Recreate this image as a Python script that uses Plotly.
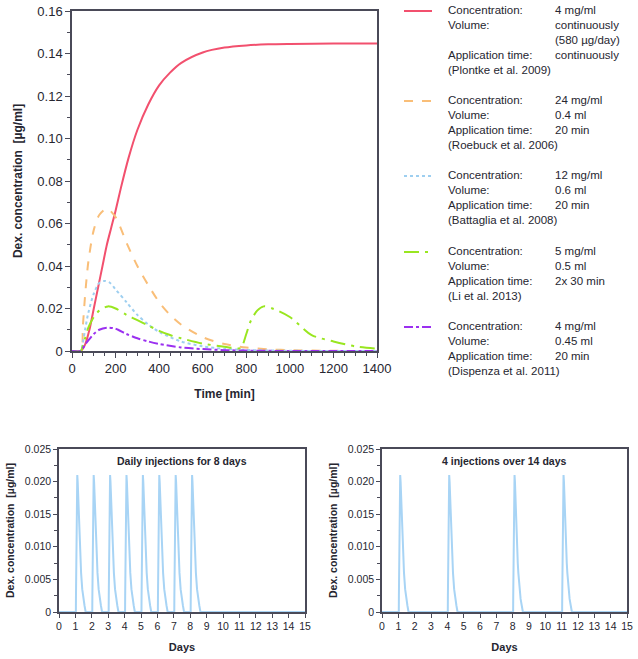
import plotly.graph_objects as go

# --- top chart: dexamethasone concentration over time (min) ---
TIME_RED = [0, 40, 60, 80, 100, 120, 140, 160, 180, 200, 225, 260, 300, 350, 400, 450, 500, 600, 700, 800, 900, 1000, 1200, 1400]
CONC_RED = [0, 0, 0.003, 0.01, 0.02, 0.03, 0.04, 0.05, 0.058, 0.066, 0.077, 0.091, 0.104, 0.116, 0.125, 0.131, 0.1355, 0.1405, 0.1428, 0.1438, 0.1443, 0.1445, 0.1447, 0.1447]

TIME_ORANGE = [0, 40, 50, 60, 75, 100, 125, 160, 200, 250, 300, 350, 400, 450, 500, 600, 700, 800, 900, 1000, 1200, 1400]
CONC_ORANGE = [0, 0, 0.012, 0.026, 0.042, 0.057, 0.064, 0.067, 0.063, 0.051, 0.040, 0.031, 0.023, 0.017, 0.0125, 0.0065, 0.0033, 0.0016, 0.0008, 0.0004, 0.0001, 0]

TIME_BLUE = [0, 40, 50, 60, 75, 100, 125, 150, 175, 200, 250, 300, 350, 400, 500, 600, 700, 800, 1000, 1400]
CONC_BLUE = [0, 0, 0.004, 0.010, 0.018, 0.027, 0.032, 0.033, 0.032, 0.029, 0.023, 0.017, 0.0125, 0.009, 0.0045, 0.0022, 0.001, 0.0005, 0.0001, 0]

TIME_GREEN = [0, 40, 50, 60, 75, 100, 125, 165, 200, 250, 300, 350, 400, 450, 500, 600, 700, 770, 780, 800, 820, 850, 880, 920, 1000, 1100, 1200, 1300, 1400]
CONC_GREEN = [0, 0, 0.0025, 0.006, 0.011, 0.016, 0.019, 0.021, 0.020, 0.017, 0.0145, 0.012, 0.0095, 0.0075, 0.006, 0.0035, 0.002, 0.0012, 0.002, 0.008, 0.014, 0.019, 0.021, 0.020, 0.016, 0.0075, 0.0045, 0.0022, 0.0011]

TIME_PURPLE = [0, 40, 60, 75, 100, 125, 160, 200, 250, 300, 350, 400, 500, 600, 700, 800, 1000, 1400]
CONC_PURPLE = [0, 0, 0.003, 0.005, 0.008, 0.010, 0.011, 0.0105, 0.008, 0.006, 0.0045, 0.0033, 0.0017, 0.0009, 0.0004, 0.0002, 0, 0]

COLORS = ["#F2506E", "#F9BE78", "#9ECFF0", "#99E620", "#9B30F0"]
DASHES = ["solid", "dash", "dot", "longdashdot", "dashdot"]

# legend texts
CONCENTRATIONS = ["4 mg/ml", "24 mg/ml", "12 mg/ml", "5 mg/ml", "4 mg/ml"]
VOLUMES = ["continuously<br>(580 µg/day)", "0.4 ml", "0.6 ml", "0.5 ml", "0.45 ml"]
APP_TIMES = ["continuously", "20 min", "20 min", "2x 30 min", "20 min"]
REFS = ["(Plontke et al. 2009)", "(Roebuck et al. 2006)", "(Battaglia et al. 2008)",
        "(Li et al. 2013)", "(Dispenza et al. 2011)"]

# --- bottom charts: single injection profile (minutes after injection) ---
SPIKE_MIN = [0, 40, 50, 60, 75, 100, 125, 165, 200, 250, 300, 350, 400, 450, 500, 600, 700, 800, 900]
SPIKE_CONC = [0, 0, 0.0025, 0.006, 0.011, 0.016, 0.019, 0.021, 0.020, 0.017, 0.0145, 0.012, 0.0095, 0.0075, 0.006, 0.0035, 0.002, 0.001, 0]
DAYS_DAILY = [1, 2, 3, 4, 5, 6, 7, 8]
DAYS_FOUR = [1, 4, 8, 11]
DAY_TICKS = list(range(16))
Y_TICKS_BOTTOM = [0, 0.005, 0.010, 0.015, 0.020, 0.025]
Y_LABELS_BOTTOM = ["0", "0.005", "0.010", "0.015", "0.020", "0.025"]

W, H = 638, 659
FONT = "Liberation Sans, Arial, sans-serif"
TXT = "#262630"
AX = "#4a4a58"


def px(x):
    return x / W


def py(y):
    return 1 - y / H


def schedule(days):
    xs, ys = [0], [0]
    for d in days:
        for t, c in zip(SPIKE_MIN, SPIKE_CONC):
            xs.append(d + t / 1440)
            ys.append(c)
    xs.append(15)
    ys.append(0)
    return xs, ys


fig = go.Figure()

series = [(TIME_RED, CONC_RED), (TIME_ORANGE, CONC_ORANGE), (TIME_BLUE, CONC_BLUE),
          (TIME_GREEN, CONC_GREEN), (TIME_PURPLE, CONC_PURPLE)]
for (t, c), col, dash in zip(series, COLORS, DASHES):
    fig.add_trace(go.Scatter(x=t, y=c, mode="lines", line=dict(color=col, width=2, dash=dash, shape="spline", smoothing=0.8),
                             xaxis="x", yaxis="y", showlegend=False))

xs, ys = schedule(DAYS_DAILY)
fig.add_trace(go.Scatter(x=xs, y=ys, mode="lines", line=dict(color="#A8D4F5", width=2),
                         xaxis="x2", yaxis="y2", showlegend=False))
xs, ys = schedule(DAYS_FOUR)
fig.add_trace(go.Scatter(x=xs, y=ys, mode="lines", line=dict(color="#A8D4F5", width=2),
                         xaxis="x3", yaxis="y3", showlegend=False))

common = dict(showline=True, linecolor=AX, linewidth=1.5, mirror=True, ticks="outside",
              tickcolor=AX, showgrid=False, zeroline=False, automargin=False)

fig.update_layout(
    width=W, height=H, margin=dict(l=0, r=0, t=0, b=0),
    plot_bgcolor="white", paper_bgcolor="white",
    font=dict(family=FONT, color=TXT),
    xaxis=dict(domain=[px(72), px(377)], anchor="y", range=[0, 1400], tickvals=list(range(0, 1401, 200)),
               ticklen=5, minor=dict(dtick=50, ticklen=3, tickcolor=AX, ticks="outside"),
               tickfont=dict(size=13),
               title=dict(text="<b>Time [min]</b>", font=dict(size=12), standoff=14), **common),
    yaxis=dict(domain=[py(351), py(11)], anchor="x", range=[0, 0.16], tickvals=[0, 0.02, 0.04, 0.06, 0.08, 0.10, 0.12, 0.14, 0.16],
               ticktext=["0", "0.02", "0.04", "0.06", "0.08", "0.10", "0.12", "0.14", "0.16"],
               ticklen=5, minor=dict(dtick=0.01, ticklen=3, tickcolor=AX, ticks="outside"),
               tickfont=dict(size=13),
               title=dict(text="<b>Dex. concentration  [µg/ml]</b>", font=dict(size=12), standoff=12), **common),
    xaxis2=dict(domain=[px(59), px(305)], anchor="y2", range=[0, 15], tickvals=DAY_TICKS, ticklen=4,
                tickfont=dict(size=10.5), title=dict(text="<b>Days</b>", font=dict(size=11), standoff=12), **common),
    yaxis2=dict(domain=[py(612), py(449)], anchor="x2", range=[0, 0.025], tickvals=Y_TICKS_BOTTOM, ticktext=Y_LABELS_BOTTOM,
                ticklen=4, minor=dict(dtick=0.0025, ticklen=3, tickcolor=AX, ticks="outside"),
                tickfont=dict(size=10.5),
                title=dict(text="<b>Dex. concentration  [µg/ml]</b>", font=dict(size=10.5), standoff=8), **common),
    xaxis3=dict(domain=[px(382), px(627)], anchor="y3", range=[0, 15], tickvals=DAY_TICKS, ticklen=4,
                tickfont=dict(size=10.5), title=dict(text="<b>Days</b>", font=dict(size=11), standoff=12), **common),
    yaxis3=dict(domain=[py(612), py(449)], anchor="x3", range=[0, 0.025], tickvals=Y_TICKS_BOTTOM, ticktext=Y_LABELS_BOTTOM,
                ticklen=4, minor=dict(dtick=0.0025, ticklen=3, tickcolor=AX, ticks="outside"),
                tickfont=dict(size=10.5),
                title=dict(text="<b>Dex. concentration  [µg/ml]</b>", font=dict(size=10.5), standoff=8), **common),
)

# subplot titles
fig.add_annotation(text="<b>Daily injections for 8 days</b>", x=px(182), y=py(461), xref="paper", yref="paper",
                   xanchor="center", yanchor="middle", showarrow=False, font=dict(size=10.5, color=TXT))
fig.add_annotation(text="<b>4 injections over 14 days</b>", x=px(504), y=py(461), xref="paper", yref="paper",
                   xanchor="center", yanchor="middle", showarrow=False, font=dict(size=10.5, color=TXT))

# custom legend
GROUP_Y = [11, 101, 176, 252, 327]
ROW = 15.3
for i, gy in enumerate(GROUP_Y):
    fig.add_shape(type="line", xref="paper", yref="paper", x0=px(404), x1=px(432), y0=py(gy), y1=py(gy),
                  line=dict(color=COLORS[i], width=2, dash=DASHES[i]))
    vol_rows = VOLUMES[i].count("<br>") + 1
    labels = "Concentration:<br>Volume:" + "<br>" * vol_rows + "Application time:<br>" + REFS[i]
    values = CONCENTRATIONS[i] + "<br>" + VOLUMES[i] + "<br>" + APP_TIMES[i]
    fig.add_annotation(text=labels, x=px(446), y=py(gy - ROW / 2 - 1), xref="paper", yref="paper", xanchor="left",
                       yanchor="top", align="left", showarrow=False, font=dict(size=11.5, color=TXT))
    fig.add_annotation(text=values, x=px(553), y=py(gy - ROW / 2 - 1), xref="paper", yref="paper", xanchor="left",
                       yanchor="top", align="left", showarrow=False, font=dict(size=11.5, color=TXT))

# the default page body has an 8px margin; drop it so the figure fills the window
fig.write_html("out.html", config={"displayModeBar": False},
               post_script="document.body.style.margin = '0';")
